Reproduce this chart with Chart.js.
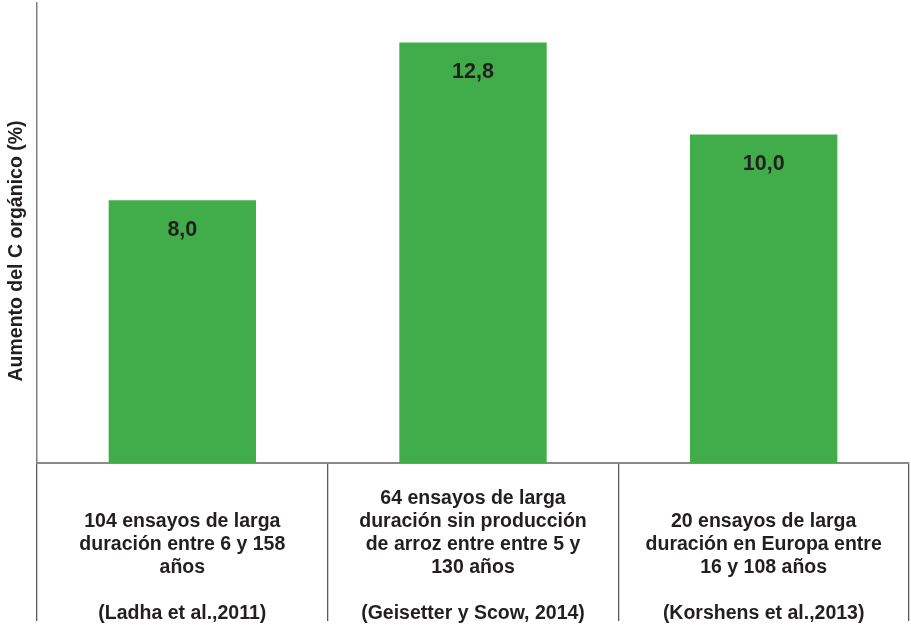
<!DOCTYPE html>
<html>
<head>
<meta charset="utf-8">
<script src="https://cdn.jsdelivr.net/npm/chart.js@4"></script>
<style>
  html, body { margin: 0; padding: 0; background: #fff; }
  #wrap { width: 911px; height: 626px; }
</style>
</head>
<body>
<div id="wrap"><canvas id="chart" width="911" height="626"></canvas></div>
<script>
// Data
const categories = [
  ['', '104 ensayos de larga', 'duración entre 6 y 158', 'años', '', '(Ladha et al.,2011)'],
  ['64 ensayos de larga', 'duración sin producción', 'de arroz entre entre 5 y', '130 años', '', '(Geisetter y Scow, 2014)'],
  ['', '20 ensayos de larga', 'duración en Europa entre', '16 y 108 años', '', '(Korshens et al.,2013)']
];
const values = [8.0, 12.8, 10.0];
const yTitle = 'Aumento del C orgánico (%)';
const yMax = 14;

const FONT = "'Liberation Sans', Arial, sans-serif";
const TEXT = '#231f20';

// value labels inside the bars + rotated axis title
const labelsPlugin = {
  id: 'labelsPlugin',
  afterDatasetsDraw(chart) {
    const ctx = chart.ctx;
    const meta = chart.getDatasetMeta(0);
    ctx.save();
    ctx.fillStyle = TEXT;
    ctx.font = 'bold 21.5px ' + FONT;
    ctx.textAlign = 'center';
    ctx.textBaseline = 'middle';
    meta.data.forEach((bar, i) => {
      ctx.fillText(values[i].toFixed(1).replace('.', ','), bar.x, bar.y + 30);
    });
    ctx.restore();
  },
  afterDraw(chart) {
    const ctx = chart.ctx;
    ctx.save();
    ctx.translate(17, 251);
    ctx.rotate(-Math.PI / 2);
    ctx.fillStyle = TEXT;
    ctx.font = 'bold 19.5px ' + FONT;
    ctx.textAlign = 'center';
    ctx.textBaseline = 'middle';
    ctx.fillText(yTitle, 0, 0);
    ctx.restore();
  }
};

new Chart(document.getElementById('chart'), {
  type: 'bar',
  data: {
    labels: categories,
    datasets: [{
      data: values,
      backgroundColor: '#41ad4a',
      categoryPercentage: 1,
      barPercentage: 0.507
    }]
  },
  options: {
    responsive: false,
    animation: false,
    layout: { padding: { top: 3, right: 2, left: 0, bottom: 0 } },
    scales: {
      x: {
        afterFit: s => { s.height = 163; },
        border: { display: true, color: '#8a8a8a', width: 2 },
        grid: {
          offset: true,
          drawOnChartArea: false,
          drawTicks: true,
          tickLength: 158,
          tickColor: '#5a5a5a',
          lineWidth: 1.3
        },
        ticks: {
          color: TEXT,
          font: { family: FONT, size: 19.5, weight: 'bold', lineHeight: '23px' },
          padding: -134,
          maxRotation: 0,
          autoSkip: false
        }
      },
      y: {
        min: 0,
        max: yMax,
        afterFit: s => { s.width = 37; },
        border: { display: true, color: '#808080', width: 1.5 },
        grid: { display: false },
        ticks: { display: false }
      }
    },
    plugins: {
      legend: { display: false },
      tooltip: { enabled: false }
    }
  },
  plugins: [labelsPlugin]
});
</script>
</body>
</html>
